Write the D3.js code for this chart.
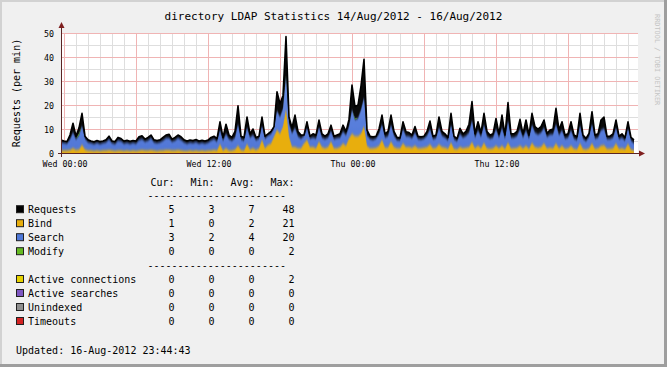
<!DOCTYPE html>
<html><head><meta charset="utf-8">
<script src="https://cdn.jsdelivr.net/npm/d3@7"></script>
<style>
html,body{margin:0;padding:0;background:#f0f0f0;}
svg{display:block;font-family:"DejaVu Sans Mono",monospace;}
</style>
</head><body>
<svg id="chart" width="667" height="367"></svg>
<script>
// ---- data: 15-minute samples, Tue 14/Aug 23:45 -> Thu 16/Aug 23:30 ----
const requests = [
 5.4,5,4.8,7.5,12.4,7,10.5,16.5,7,5.5,5,4.7,
 5.2,4.8,5,5.5,7,5,4.8,6.5,6,5,5.3,4.9,
 5.2,5,6.8,7.2,5.8,6.5,7.5,5.5,5.2,5.5,6.5,7.5,
 7.8,5.8,6.5,7.5,6.8,5.5,5,5.4,5.2,5.6,5,5.3,
 5,5.4,6.5,7,6,13,6.5,12,7.5,6.5,9,19.7,
 7,6.5,15,8,10,6.5,7,15,7,8,9,11,
 25.5,20.5,24,48.5,15,10.5,15.8,9,7.5,7.5,13,7,
 8,7.5,13.7,8,7,8,11.6,7,7.5,8,11.6,9,
 14,28.3,19.3,20,28,39,9.6,7,6.8,7,10,15.8,
 8,9,15.8,9,6.5,6.3,13,8.9,8.5,7.5,11,7,
 6.8,7,9,13.3,7,7.5,15,9,8,6.5,16.5,7,
 6,10.3,8,9,12,21.4,8,13,8.5,16.5,9,7.5,
 8,14.4,8,15.8,7.5,21,8,8,9,14,8,13.75,
 7.5,16.5,11,10,11,13.75,8.2,9.6,10,18.6,9.6,13,
 7.5,8,13,7.5,6.8,16.5,7.5,6.1,8.2,17.2,7.5,8,
 13.75,15,7,7,8,13.75,7,8,6.4,13,6.5,5.5
];
const bind = [
 1,1,1,1.2,2,1.2,1.5,3.3,1.5,1,1,0.8,
 1,0.8,1,1,1.2,1,0.8,1,1,0.8,1,0.8,
 1,0.8,1,1.2,1,1,1.2,1,0.8,1,1,1.2,
 1.2,1,1,1.2,1,0.8,0.8,1,0.8,1,0.8,1,
 0.8,1,1,1.2,1,3.6,1,2,1,1,1.5,3,
 1.2,1,3.6,1.5,2,1.2,2,5.4,2,3.3,4,6.8,
 9.6,8,11,18,6.8,2.6,2.5,2,2,4,5.4,2.5,
 2.5,2,4.7,2.5,2,2.5,4.7,2,2,2.5,4,3,
 6,8,7,7,8,11,3,2,2,2.2,3,5.4,
 2.3,2.3,4.7,2.5,2,2,4,2.5,2.5,2.2,3,2,
 2,2.2,2.5,3.5,2,2.2,3.5,2.5,2.2,1.8,4.3,1.8,
 1.6,2.5,2,2.2,2.5,4.5,2,3,2,4.2,2,1.8,
 2,3,2,3,1.8,4.3,2,2,2.2,3,2,3,
 1.8,4.2,2.5,2.2,2.5,4,2,2.2,2,4,2,3,
 1.8,2,3,1.8,1.6,4,1.8,1.5,2,4,1.8,2,
 3,3.2,1.8,1.8,2,4,1.8,2,1.6,3.8,1.5,1
];
const search = [
 3.4,3.2,3,4.5,6.5,4.5,6,8,4.5,3.5,3.2,3,
 3.3,3,3.2,3.5,4.5,3.2,3,4.2,4,3.2,3.3,3.1,
 3.3,3.2,4.4,4.6,3.8,4.2,5,3.5,3.4,3.5,4.2,5,
 5,3.8,4.2,5,4.5,3.7,3.2,3.4,3.4,3.6,3.2,3.3,
 3.2,3.4,4.2,4.6,3.8,6,4.2,6,4.8,4.2,5,9,
 4.5,4.2,7,5,5.5,4.2,4,6,4,4,4,3.5,
 8,7,7.5,14,5.5,5.6,8,5,4,3.2,5,3.5,
 4,4,6,4,3.8,4,4.5,3.8,4.2,4,5,4.5,
 5,10,7,7.5,10,12,4.5,3.8,3.5,3.8,5,6.5,
 4.2,4.8,7,4.8,3.4,3.3,6,4.6,4.5,4,5.5,3.8,
 3.6,3.8,4.8,6.5,3.8,4,7,4.8,4.3,3.5,7.5,4,
 3.4,5.5,4.5,5,6,9,4.5,6.5,4.8,7.5,5,4.2,
 4.5,7,4.5,7.5,4.2,9,4.5,4.5,5,7,4.5,6.5,
 4.2,7.5,6,5.5,6,6.5,4.8,5.5,5.8,8,5.5,6.5,
 4.2,4.5,6.5,4.2,3.8,7.5,4.2,3.5,4.8,8,4.2,4.5,
 6.5,7,4,4,4.5,6.5,4,4.5,3.6,6.5,3.8,3
];
const modify = [
 0,0,0,0,0,0,0.6,0,0,0,0,0,
 0,0,0,0,0,0,0,0,0,0,0,0,
 0,0,0,0,0,0,0,0,0,0,0,0,
 0,0,0,0,0,0,0,0,0,0,0,0,
 0,0,0,0,0,0,0,0,0,0,0,0,
 0,0,0,0,0,0,0,0,0,0,0,0,
 0,0,0,0.4,0,0,0,0,0,0,0,0,
 0,0,0,0,0,0,0,0,0,0,0,0,
 0,0,0.4,0,0,0,0,0,0,0,0,0,
 0,0,0,0,0,0,0,0,0,0,0,0,
 0,0,0,0,0,0,0,0,0,0,0,0,
 0,0,0,0,0,0,0,0,0,0,0,0,
 0,0,0,0,0,0,0,0,0,0,0,0,
 0,0,0,0,0,0,0,0,0,0,0,0,
 0,0,0,0,0,0,0,0,0,0,0,0,
 0,0,0,0,0,0,0,0,0,0,0,0
];
const startTime = new Date(2012, 7, 14, 23, 45);
const endTime = new Date(2012, 7, 16, 23, 45);
const stepMinutes = 15;

const yTicks = [0, 10, 20, 30, 40, 50];
const xTickTimes = [new Date(2012,7,15,0,0), new Date(2012,7,15,12,0), new Date(2012,7,16,0,0), new Date(2012,7,16,12,0)];
const xTickLabels = ["Wed 00:00", "Wed 12:00", "Thu 00:00", "Thu 12:00"];

const legendNames1 = ["Requests", "Bind", "Search", "Modify"];
const legendColors1 = ["#000000", "#e8ae0c", "#4f78d8", "#66bb22"];
const legendCur1 = [5, 1, 3, 0];
const legendMin1 = [3, 0, 2, 0];
const legendAvg1 = [7, 2, 4, 0];
const legendMax1 = [48, 21, 20, 2];
const legendNames2 = ["Active connections", "Active searches", "Unindexed", "Timeouts"];
const legendColors2 = ["#e6d200", "#7e57c2", "#8f8f8f", "#d32222"];
const legendCur2 = [0, 0, 0, 0];
const legendMin2 = [0, 0, 0, 0];
const legendAvg2 = [0, 0, 0, 0];
const legendMax2 = [2, 0, 0, 0];
const statHeaders = ["Cur:", "Min:", "Avg:", "Max:"];

const titleText = "directory LDAP Statistics 14/Aug/2012 - 16/Aug/2012";
const yLabel = "Requests (per min)";
const watermark = "RRDTOOL / TOBI OETIKER";
const updatedText = "Updated: 16-Aug-2012 23:44:43";

// ---- drawing ----
const svg = d3.select("#chart");
const W = 667, H = 367;
const L = 61, R = 637, T = 33, B = 153;

const x = d3.scaleTime().domain([startTime, endTime]).range([L, R]);
const y = d3.scaleLinear().domain([0, 50]).range([B, T]);

const rows = requests.map((v, i) => ({
  t: d3.timeMinute.offset(startTime, i * stepMinutes),
  requests: v, bind: bind[i], search: search[i], modify: modify[i]
}));

// frame
svg.append("rect").attr("width", W).attr("height", H).attr("fill", "#f0f0f0");
svg.append("rect").attr("x", 0).attr("y", 0).attr("width", W).attr("height", 2).attr("fill", "#d2d2d2");
svg.append("rect").attr("x", 0).attr("y", 0).attr("width", 2).attr("height", H).attr("fill", "#d2d2d2");
svg.append("rect").attr("x", W - 3).attr("y", 0).attr("width", 3).attr("height", H).attr("fill", "#9e9e9e");
svg.append("rect").attr("x", 0).attr("y", H - 3).attr("width", W).attr("height", 3).attr("fill", "#9e9e9e");

// canvas
svg.append("rect").attr("x", L).attr("y", T).attr("width", R - L + 1).attr("height", B - T).attr("fill", "#ffffff");

const defs = svg.append("defs");
defs.append("clipPath").attr("id", "plotclip").append("rect")
  .attr("x", L).attr("y", T - 14).attr("width", R - L + 1).attr("height", B - T + 14);
const blur = defs.append("filter").attr("id", "soft")
  .attr("x", "-2%").attr("y", "-20%").attr("width", "104%").attr("height", "140%");
blur.append("feGaussianBlur").attr("stdDeviation", "0.3 1.6");
const blueGrad = defs.append("linearGradient").attr("id", "blueg")
  .attr("x1", 0).attr("y1", 0).attr("x2", 0).attr("y2", 1)
  .attr("gradientUnits", "userSpaceOnUse");
blueGrad.attr("y1", T).attr("y2", B);
blueGrad.append("stop").attr("offset", "0%").attr("stop-color", "#8aa5ee");
blueGrad.append("stop").attr("offset", "70%").attr("stop-color", "#5b80dc");
blueGrad.append("stop").attr("offset", "100%").attr("stop-color", "#4f76d6");

// grid
const grid = svg.append("g");
const hourTicks = d3.timeHour.every(1).range(startTime, endTime);
hourTicks.forEach(t => {
  const major = t.getHours() % 6 === 0;
  if (major) return;
  grid.append("line").attr("x1", Math.round(x(t)) + 0.5).attr("x2", Math.round(x(t)) + 0.5)
    .attr("y1", T).attr("y2", B).attr("stroke", "#dedede").attr("stroke-width", 1);
});
d3.range(5, 50, 10).forEach(v => {
  grid.append("line").attr("x1", L).attr("x2", R + 1).attr("y1", y(v) + 0.5).attr("y2", y(v) + 0.5)
    .attr("stroke", "#dedede").attr("stroke-width", 1);
});
hourTicks.filter(t => t.getHours() % 6 === 0).forEach(t => {
  grid.append("line").attr("x1", Math.round(x(t)) + 0.5).attr("x2", Math.round(x(t)) + 0.5)
    .attr("y1", T).attr("y2", B).attr("stroke", "#f0b4b4").attr("stroke-width", 1);
});
yTicks.filter(v => v > 0).forEach(v => {
  grid.append("line").attr("x1", L).attr("x2", R + 1).attr("y1", y(v) + 0.5).attr("y2", y(v) + 0.5)
    .attr("stroke", "#f0b4b4").attr("stroke-width", 1);
});

// data
const plot = svg.append("g").attr("clip-path", "url(#plotclip)");
const xa = d => x(d.data ? d.data.t : d.t);

const reqArea = d3.area().x(d => x(d.t)).y0(B).y1(d => y(d.requests));
plot.append("path").datum(rows).attr("d", reqArea).attr("fill", "#0a0a0a");

const stack = d3.stack().keys(["bind", "search", "modify"]);
const series = stack(rows);

// blue (search, stacked on bind), filled from baseline so only its top edge is soft
const blueArea = d3.area().x(xa).y0(B + 6).y1(d => y(d[1]));
plot.append("path").datum(series[1]).attr("d", blueArea)
  .attr("fill", "url(#blueg)").attr("filter", "url(#soft)");

const greenArea = d3.area().x(xa).y0(d => y(d[0])).y1(d => y(d[1]));
plot.append("path").datum(series[2]).attr("d", greenArea).attr("fill", "#66bb22");

const orangeArea = d3.area().x(xa).y0(B + 6).y1(d => y(d[1]));
plot.append("path").datum(series[0]).attr("d", orangeArea)
  .attr("fill", "#e8ae0c").attr("filter", "url(#soft)");

const reqLine = d3.line().x(d => x(d.t)).y(d => y(d.requests));
plot.append("path").datum(rows).attr("d", reqLine).attr("fill", "none")
  .attr("stroke", "#000").attr("stroke-width", 1.6).attr("stroke-linejoin", "round");

// axes
const axisColor = "#5a2424";
svg.append("line").attr("x1", L + 0.5).attr("x2", L + 0.5).attr("y1", B + 4).attr("y2", T - 6)
  .attr("stroke", axisColor).attr("stroke-width", 1);
svg.append("line").attr("x1", L - 3).attr("x2", R + 3).attr("y1", B + 0.5).attr("y2", B + 0.5)
  .attr("stroke", axisColor).attr("stroke-width", 1);
svg.append("path").attr("d", `M${L - 2.5},${T - 5} L${L + 3.5},${T - 5} L${L + 0.5},${T - 11} Z`).attr("fill", "#7f1f1f");
svg.append("path").attr("d", `M${R + 2},${B - 2.5} L${R + 2},${B + 3.5} L${R + 8},${B + 0.5} Z`).attr("fill", "#7f1f1f");

// y tick labels
const yAxis = d3.axisLeft(y).tickValues(yTicks).tickSize(0).tickPadding(0).tickFormat(d3.format("d"));
const yg = svg.append("g").attr("transform", `translate(${L - 7},0.5)`).call(yAxis);
yg.select(".domain").remove();
yg.selectAll("text").attr("font-family", "DejaVu Sans Mono").attr("font-size", 8.3).attr("fill", "#000");

// x tick labels
const xAxis = d3.axisBottom(x).tickValues(xTickTimes).tickSize(0).tickPadding(0)
  .tickFormat((d, i) => xTickLabels[i]);
const xg = svg.append("g").attr("transform", `translate(0.5,${B + 8})`).call(xAxis);
xg.select(".domain").remove();
xg.selectAll("text").attr("font-family", "DejaVu Sans Mono").attr("font-size", 8.3).attr("fill", "#000");

// title
svg.append("text").attr("x", 333.5).attr("y", 20).attr("text-anchor", "middle")
  .attr("font-size", 11).attr("fill", "#000").text(titleText);

// y label
svg.append("text").attr("transform", "translate(20,93) rotate(-90)").attr("text-anchor", "middle")
  .attr("font-size", 10).attr("fill", "#000").text(yLabel);

// watermark
svg.append("text").attr("transform", "translate(655,14) rotate(90)").attr("text-anchor", "start")
  .attr("font-size", 6.9).attr("fill", "#c4c4c4").text(watermark);

// legend
const lg = svg.append("g").attr("font-size", 10).attr("fill", "#000");
const colRight = [174.5, 214.5, 254.5, 294.5];
const fs = 3.6; // baseline offset from row centre
statHeaders.forEach((h, j) => {
  lg.append("text").attr("x", colRight[j]).attr("y", 182 + fs).attr("text-anchor", "end").text(h);
});
const dashes = "-".repeat(23);
lg.append("text").attr("x", 147.5).attr("y", 195 + fs).text(dashes);
lg.append("text").attr("x", 147.5).attr("y", 265 + fs).text(dashes);

function legendBlock(names, colors, cols, y0) {
  names.forEach((n, i) => {
    const cy = y0 + i * 14;
    lg.append("rect").attr("x", 16.5).attr("y", cy - 4).attr("width", 7).attr("height", 7)
      .attr("fill", colors[i]).attr("stroke", "#202020").attr("stroke-width", 1);
    lg.append("text").attr("x", 28).attr("y", cy + fs).text(n);
    cols.forEach((arr, j) => {
      lg.append("text").attr("x", colRight[j]).attr("y", cy + fs).attr("text-anchor", "end").text(arr[i]);
    });
  });
}
legendBlock(legendNames1, legendColors1, [legendCur1, legendMin1, legendAvg1, legendMax1], 209.7);
legendBlock(legendNames2, legendColors2, [legendCur2, legendMin2, legendAvg2, legendMax2], 279.5);

lg.append("text").attr("x", 16).attr("y", 350 + fs).text(updatedText);
</script>
</body></html>
